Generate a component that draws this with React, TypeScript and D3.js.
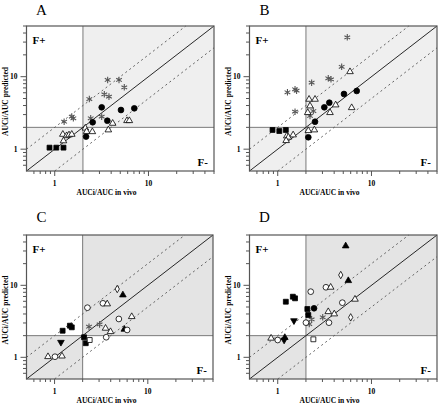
import React from "react";
import * as d3 from "d3";

// ---------- data (x = AUCi/AUC in vivo, y = AUCi/AUC predicted) ----------
const majorTicks = [1, 10];
const minorTicks = [0.6, 0.7, 0.8, 0.9, 2, 3, 4, 5, 6, 7, 8, 9, 20, 30, 40, 50];
const domain = [0.5, 50];

// Panel A
const aSquares = [[0.88, 1.05], [1.04, 1.05], [1.24, 1.05]];
const aStars = [[1.26, 2.39], [1.52, 2.81], [1.58, 2.67], [2.34, 4.92], [2.42, 2.67], [3.17, 2.81], [3.67, 9.0], [3.38, 5.71], [3.79, 5.3], [4.85, 9.0], [5.52, 7.13]];
const aCircles = [[3.17, 3.78], [5.09, 3.47], [7.06, 3.66], [2.54, 2.35], [3.64, 2.47], [2.16, 1.49]];
const aTriangles = [[1.22, 1.6], [1.34, 1.53], [1.42, 1.57], [1.52, 1.6], [1.24, 1.3], [2.12, 1.95], [2.19, 1.75], [2.52, 1.74], [3.73, 1.84], [4.15, 2.27], [5.9, 2.47], [6.25, 2.47]];

// Panel B
const bSquares = [[0.88, 1.84], [1.04, 1.78], [1.22, 1.84]];
const bStars = [[5.52, 34.9], [4.81, 13.7], [3.46, 9.5], [3.7, 9.2], [2.3, 8.26], [1.27, 6.09], [1.53, 6.7], [1.59, 6.41], [1.53, 3.29], [2.4, 3.36], [2.21, 2.87]];
const bCircles = [[6.96, 6.35], [5.09, 5.77], [3.55, 4.38], [3.14, 3.78], [2.5, 2.39], [2.12, 1.46]];
const bTriangles = [[5.9, 11.7], [2.16, 4.87], [2.5, 4.87], [2.21, 3.94], [4.15, 4.07], [6.15, 3.73], [2.09, 3.19], [3.61, 3.19], [2.12, 1.8], [2.46, 1.84], [1.25, 1.52], [1.3, 1.46], [1.46, 1.57], [1.23, 1.31]];

// Panel C
const cStars = [[2.34, 2.66], [3.04, 2.87]];
const cOpenCircles = [[2.25, 4.89], [3.3, 5.62], [4.89, 3.41], [3.58, 1.9], [6.0, 2.4], [1.01, 1.02]];
const cOpenDiamonds = [[4.7, 8.89]];
const cOpenSquares = [[2.38, 1.74]];
const cOpenTriangles = [[3.67, 5.51], [3.52, 2.53], [3.98, 2.27], [6.72, 3.67], [0.85, 1.02], [1.2, 1.04]];
const cFilledSquares = [[1.22, 2.34], [1.46, 2.75], [1.53, 2.61], [2.07, 1.9], [2.16, 1.57]];
const cFilledUp = [[5.4, 7.34], [5.6, 2.45]];
const cFilledDown = [[1.17, 1.62]];

// Panel D
const dStars = [[2.3, 3.37], [3.02, 3.6], [2.17, 2.9]];
const dOpenCircles = [[2.25, 8.16], [3.27, 9.39], [4.89, 5.74], [2.0, 3.03], [3.52, 3.03], [1.0, 1.74]];
const dOpenDiamonds = [[4.7, 13.9], [6.0, 3.59]];
const dOpenSquares = [[2.4, 1.78]];
const dOpenTriangles = [[3.67, 9.39], [6.67, 6.4], [3.46, 4.3], [4.01, 4.0], [0.85, 1.84]];
const dFilledSquares = [[1.22, 5.92], [1.45, 6.95], [1.53, 6.6], [2.07, 4.69], [2.12, 3.87]];
const dFilledCircles = [[2.44, 4.8]];
const dFilledUp = [[5.31, 35.2], [5.66, 11.6], [1.19, 1.88]];
const dFilledDown = [[1.49, 3.23], [1.17, 1.74]];

type Series = { data: number[][]; shape: string; filled: boolean };

const panels = [
  {
    label: "A", x0: 26.5, x1: 214, y0: 26, y1: 171, fill: "#efefef",
    series: [
      { data: aStars, shape: "star", filled: false },
      { data: aSquares, shape: "square", filled: true },
      { data: aCircles, shape: "circle", filled: true },
      { data: aTriangles, shape: "triangle", filled: false },
    ],
  },
  {
    label: "B", x0: 249.5, x1: 437, y0: 26, y1: 171, fill: "#efefef",
    series: [
      { data: bStars, shape: "star", filled: false },
      { data: bSquares, shape: "square", filled: true },
      { data: bCircles, shape: "circle", filled: true },
      { data: bTriangles, shape: "triangle", filled: false },
    ],
  },
  {
    label: "C", x0: 26.5, x1: 213, y0: 235, y1: 379, fill: "#e4e4e4",
    series: [
      { data: cStars, shape: "star", filled: false },
      { data: cFilledSquares, shape: "square", filled: true },
      { data: cFilledUp, shape: "triangle", filled: true },
      { data: cFilledDown, shape: "down", filled: true },
      { data: cOpenCircles, shape: "circle", filled: false },
      { data: cOpenDiamonds, shape: "diamond", filled: false },
      { data: cOpenSquares, shape: "square", filled: false },
      { data: cOpenTriangles, shape: "triangle", filled: false },
    ],
  },
  {
    label: "D", x0: 249.5, x1: 437, y0: 235, y1: 379, fill: "#e4e4e4",
    series: [
      { data: dStars, shape: "star", filled: false },
      { data: dFilledSquares, shape: "square", filled: true },
      { data: dFilledCircles, shape: "circle", filled: true },
      { data: dFilledUp, shape: "triangle", filled: true },
      { data: dFilledDown, shape: "down", filled: true },
      { data: dOpenCircles, shape: "circle", filled: false },
      { data: dOpenDiamonds, shape: "diamond", filled: false },
      { data: dOpenSquares, shape: "square", filled: false },
      { data: dOpenTriangles, shape: "triangle", filled: false },
    ],
  },
];

const serif = "'Liberation Serif', 'DejaVu Serif', serif";

function symbolPath(shape: string): string {
  switch (shape) {
    case "square": return d3.symbol().type(d3.symbolSquare).size(24)() as string;
    case "circle": return d3.symbol().type(d3.symbolCircle).size(26)() as string;
    case "triangle": return d3.symbol().type(d3.symbolTriangle).size(19)() as string;
    case "down": return d3.symbol().type(d3.symbolTriangle).size(19)() as string;
    case "diamond": return d3.symbol().type(d3.symbolDiamond).size(16)() as string;
    case "star": return d3.symbol().type(d3.symbolAsterisk).size(30)() as string;
  }
  return "";
}

function Panel({ p }: { p: typeof panels[number] }) {
  const x = d3.scaleLog().domain(domain).range([p.x0, p.x1]);
  const y = d3.scaleLog().domain(domain).range([p.y1, p.y0]);
  const line = d3.line<number[]>().x((d) => x(d[0])).y((d) => y(d[1]));
  const diag = [[0.5, 0.5], [50, 50]];
  const up = [[0.5, 1], [25, 50]];
  const down = [[1, 0.5], [50, 25]];
  const cx = (p.x0 + p.x1) / 2;
  return (
    <g>
      {/* panel letter */}
      <text x={p.x0 + 15} y={p.y0 - (p.label === "A" || p.label === "B" ? 11 : 13.5)} fontFamily={serif} fontSize={15} textAnchor="middle">{p.label}</text>
      {/* background */}
      <rect x={p.x0} y={p.y0} width={p.x1 - p.x0} height={p.y1 - p.y0} fill="#fff" />
      <rect x={x(0.5)} y={y(2)} width={x(2) - x(0.5)} height={y(0.5) - y(2)} fill={p.fill} />
      <rect x={x(2)} y={y(50)} width={x(50) - x(2)} height={y(2) - y(50)} fill={p.fill} />
      <line x1={x(2)} x2={x(2)} y1={p.y0} y2={p.y1} stroke="#7a7a7a" strokeWidth={1} />
      <line x1={p.x0} x2={p.x1} y1={y(2)} y2={y(2)} stroke="#7a7a7a" strokeWidth={1} />
      {/* reference lines */}
      <path d={line(diag) as string} stroke="#111" strokeWidth={0.9} fill="none" />
      <path d={line(up) as string} stroke="#555" strokeWidth={0.9} strokeDasharray="2,3" fill="none" />
      <path d={line(down) as string} stroke="#555" strokeWidth={0.9} strokeDasharray="2,3" fill="none" />
      {/* markers */}
      {p.series.map((s: Series, si: number) =>
        s.data.map((d, i) => (
          <path
            key={si + "-" + i}
            d={symbolPath(s.shape)}
            transform={`translate(${x(d[0])},${y(d[1])})${s.shape === "down" ? " rotate(180)" : ""}`}
            fill={s.shape === "star" ? "none" : s.filled ? "#000" : "#fff"}
            stroke={s.shape === "star" ? "#555" : "#000"}
            strokeWidth={s.shape === "star" ? 1.1 : 0.8}
          />
        ))
      )}
      {/* frame */}
      <rect x={p.x0} y={p.y0} width={p.x1 - p.x0} height={p.y1 - p.y0} fill="none" stroke="#555" strokeWidth={1.2} />
      {/* x ticks */}
      {minorTicks.map((t) => (
        <line key={"xm" + t} x1={x(t)} x2={x(t)} y1={p.y1} y2={p.y1 + 3} stroke="#555" />
      ))}
      {majorTicks.map((t) => (
        <g key={"xM" + t}>
          <line x1={x(t)} x2={x(t)} y1={p.y1} y2={p.y1 + 5} stroke="#555" />
          <text x={x(t)} y={p.y1 + 15} fontFamily={serif} fontWeight="bold" fontSize={7.5} textAnchor="middle">{t}</text>
        </g>
      ))}
      {/* y ticks */}
      {minorTicks.map((t) => (
        <line key={"ym" + t} x1={p.x0 - 3.5} x2={p.x0} y1={y(t)} y2={y(t)} stroke="#555" />
      ))}
      {majorTicks.map((t) => (
        <g key={"yM" + t}>
          <line x1={p.x0 - 6} x2={p.x0} y1={y(t)} y2={y(t)} stroke="#555" />
          <text x={p.x0 - 9} y={y(t) + 2.6} fontFamily={serif} fontWeight="bold" fontSize={7.5} textAnchor="end">{t}</text>
        </g>
      ))}
      {/* F+ / F- */}
      <text x={p.x0 + 6} y={p.y0 + 18} fontFamily={serif} fontWeight="bold" fontSize={11}>F+</text>
      <text x={p.x1 - 6} y={p.y1 - 5} fontFamily={serif} fontWeight="bold" fontSize={11} textAnchor="end">F-</text>
      {/* axis titles */}
      <text x={p.x0 + 80} y={p.y1 + 24} fontFamily={serif} fontWeight="bold" fontSize={7.5} textAnchor="middle">AUCi/AUC in vivo</text>
      <text transform={`translate(${p.x0 - 18.5},${(p.y0 + p.y1) / 2 + 3}) rotate(-90)`} fontFamily={serif} fontWeight="bold" fontSize={7.5} textAnchor="middle">AUCi/AUC predicted</text>
    </g>
  );
}

export default function App() {
  return (
    <svg width={440} height={406} viewBox="0 0 440 406" style={{ position: "absolute", left: 0, top: 0, background: "#fff" }}>
      <rect x={0} y={0} width={440} height={406} fill="#fff" />
      {panels.map((p) => (
        <Panel key={p.label} p={p} />
      ))}
    </svg>
  );
}
